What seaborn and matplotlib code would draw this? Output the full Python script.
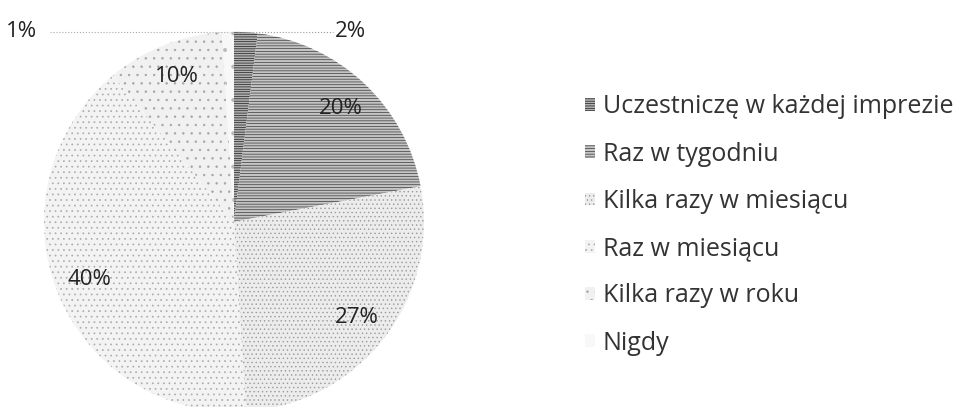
import matplotlib
matplotlib.use("Agg")
import matplotlib.pyplot as plt
import seaborn as sns

# --------------------------------------------------
# Data
# --------------------------------------------------
categories = [
    "Uczestniczę w każdej imprezie",
    "Raz w tygodniu",
    "Kilka razy w miesiącu",
    "Raz w miesiącu",
    "Kilka razy w roku",
    "Nigdy",
]
shares = [2, 20, 27, 40, 10, 1]

# grey shades + hatches imitating the scanned print
fills = ["#b0b0b0", "#c4c4c4", "#ececec", "#f3f3f3", "#f1f1f1", "#f8f8f8"]
hatch_cols = ["#1e1e1e", "#3a3a3a", "#9a9a9a", "#ababab", "#a5a5a5", "#bbbbbb"]
hatches = ["-------", "------", "....", "...", "..", "."]

# --------------------------------------------------
# Figure
# --------------------------------------------------
sns.set_theme(style="white")
plt.rcParams["font.family"] = ["Open Sans", "DejaVu Sans"]
plt.rcParams["hatch.linewidth"] = 0.5

fig = plt.figure(figsize=(9.57, 4.07), dpi=100)
ax = fig.add_axes([0.046, -0.012, 0.397, 0.934])

wedges, texts, autotexts = ax.pie(
    shares,
    startangle=90,
    counterclock=False,
    colors=fills,
    autopct="%d%%",
    pctdistance=0.82,
    textprops={"fontsize": 16, "color": "#222222"},
    wedgeprops={"linewidth": 0},
)
for w, h, hc in zip(wedges, hatches, hatch_cols):
    w.set_hatch(h)
    w.set_edgecolor(hc)
    w.set_linewidth(0)
ax.set_xlim(-1, 1)
ax.set_ylim(-1, 1)
ax.set_aspect("equal")

# small slices: labels outside with dotted leaders along the top
autotexts[0].set_position((0.53, 1.0))
autotexts[0].set_ha("left")
autotexts[0].set_va("center")
autotexts[5].set_position((-1.2, 1.0))
autotexts[5].set_ha("left")
autotexts[5].set_va("center")
ax.plot([0.02, 0.52], [1.0, 1.0], ls=":", lw=0.8, color="#999999", clip_on=False)
ax.plot([-0.97, -0.02], [1.0, 1.0], ls=":", lw=0.8, color="#aaaaaa", clip_on=False)

leg = fig.legend(
    wedges,
    categories,
    loc="center left",
    bbox_to_anchor=(0.588, 0.447),
    frameon=False,
    fontsize=18,
    labelspacing=0.89,
    handlelength=0.4,
    handleheight=0.4,
    handletextpad=0.3,
    labelcolor="#333333",
)

fig.savefig("out.png", dpi=100)
